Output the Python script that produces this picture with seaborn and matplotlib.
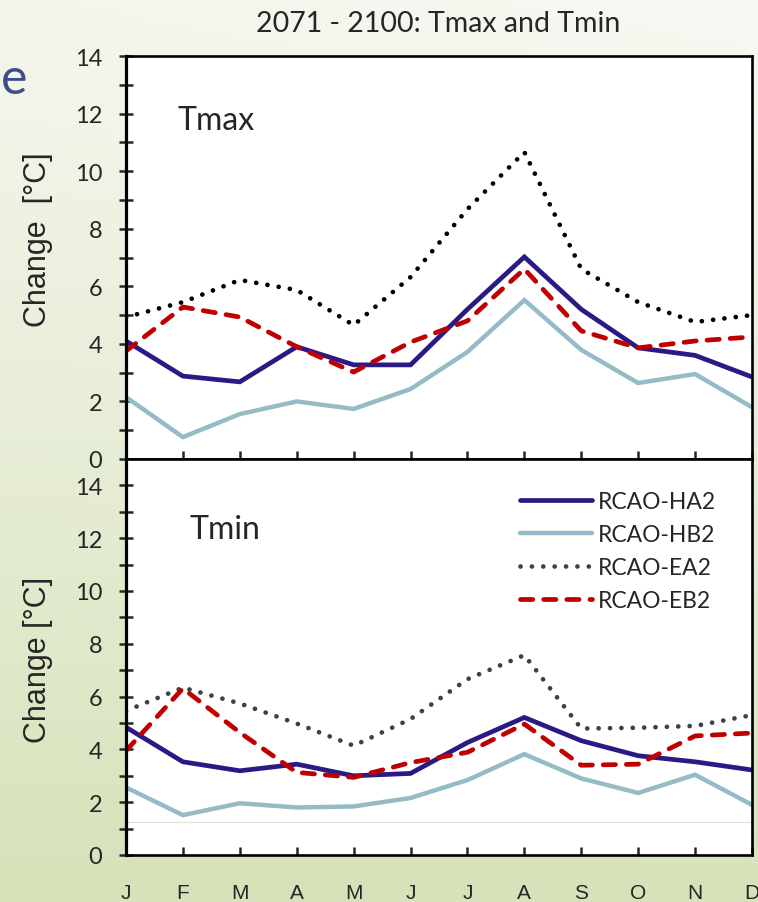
import numpy as np
import pandas as pd
import seaborn as sns
import matplotlib.pyplot as plt
from matplotlib.lines import Line2D

months = ['J', 'F', 'M', 'A', 'M', 'J', 'J', 'A', 'S', 'O', 'N', 'D']
series = ['RCAO-HA2', 'RCAO-HB2', 'RCAO-EA2', 'RCAO-EB2']

# Tmax change per month
tmax_ha2 = [4.1, 2.88, 2.68, 3.9, 3.27, 3.27, 5.2, 7.02, 5.2, 3.86, 3.6, 2.85]
tmax_hb2 = [2.15, 0.76, 1.56, 2.0, 1.74, 2.43, 3.72, 5.52, 3.79, 2.64, 2.95, 1.8]
tmax_ea2 = [4.93, 5.45, 6.22, 5.87, 4.65, 6.32, 8.68, 10.66, 6.6, 5.45, 4.76, 5.0]
tmax_eb2 = [3.75, 5.28, 4.93, 3.9, 3.02, 4.06, 4.8, 6.6, 4.45, 3.86, 4.1, 4.24]

# Tmin change per month
tmin_ha2 = [4.84, 3.53, 3.19, 3.44, 3.0, 3.09, 4.26, 5.21, 4.33, 3.76, 3.53, 3.22]
tmin_hb2 = [2.56, 1.51, 1.96, 1.8, 1.84, 2.16, 2.84, 3.82, 2.9, 2.35, 3.04, 1.9]
tmin_ea2 = [5.46, 6.34, 5.74, 4.98, 4.14, 5.15, 6.66, 7.57, 4.79, 4.82, 4.89, 5.3]
tmin_eb2 = [3.95, 6.31, 4.64, 3.13, 2.94, 3.5, 3.89, 4.96, 3.4, 3.44, 4.51, 4.62]

ref_line = 1.25  # faint horizontal line in the Tmin panel

# styling per series: color, linewidth, dash pattern (None = solid)
styles = {
    'RCAO-HA2': dict(color='#2b1a86', lw=3.4, dash=None),
    'RCAO-HB2': dict(color='#95bcc6', lw=3.2, dash=None),
    'RCAO-EA2': dict(color='black', lw=3.4, dash=(0.01, 2.4)),
    'RCAO-EB2': dict(color='#c00000', lw=3.4, dash=(2.6, 2.3)),
}


def long_df(vals):
    rows = []
    for name, v in zip(series, vals):
        for i, y in enumerate(v):
            rows.append({'month': i, 'series': name, 'change': y})
    return pd.DataFrame(rows)


df_max = long_df([tmax_ha2, tmax_hb2, tmax_ea2, tmax_eb2])
df_min = long_df([tmin_ha2, tmin_hb2, tmin_ea2, tmin_eb2])

sns.set_style('white')
plt.rcParams['font.family'] = ['Lato', 'DejaVu Sans']

fig = plt.figure(figsize=(7.58, 9.03), dpi=100)

# slide background gradient
bg = fig.add_axes([0, 0, 1, 1], zorder=-10)
yy, xx = np.mgrid[0:1:200j, 0:1:200j]
t = np.clip(yy ** 1.15 + 0.1 * (1 - xx) * (1 - yy), 0, 1)[..., None]
top_c = np.array([247, 248, 242]) / 255
bot_c = np.array([214, 226, 185]) / 255
bg.imshow(top_c * (1 - t) + bot_c * t, aspect='auto', extent=[0, 1, 1, 0])
bg.axis('off')

W, H = 758, 903
left, right = 126 / W, 752 / W
ax1 = fig.add_axes([left, (H - 460) / H, right - left, 403 / H])
ax2 = fig.add_axes([left, (H - 856) / H, right - left, 396 / H])


def draw(ax, df, gray_dots=False):
    for name in series:
        st = styles[name]
        col = st['color']
        if name == 'RCAO-EA2' and gray_dots:
            col = '#404040'
        sns.lineplot(data=df[df.series == name], x='month', y='change', ax=ax,
                     color=col, linewidth=st['lw'], legend=False)
        ln = ax.lines[-1]
        if st['dash'] is not None:
            ln.set_linestyle((0, st['dash']))
            ln.set_dash_capstyle('round')
        ln.set_solid_capstyle('butt')
        ln.set_solid_joinstyle('miter')
    ax.set_xlim(0, 11)
    ax.set_xlabel('')
    ax.set_ylabel('')
    ax.set_facecolor('white')
    for sp in ax.spines.values():
        sp.set_visible(True)
        sp.set_color('black')
        sp.set_linewidth(1.9)
    ax.spines['left'].set_linewidth(2.3)
    ax.set_xticks(range(12))
    ax.tick_params(axis='x', direction='in', length=6, width=1.8, bottom=True, top=False)
    ax.tick_params(axis='y', which='both', direction='inout', length=10.5, width=1.8,
                   left=True, right=False, pad=12, labelsize=17)


draw(ax1, df_max)
ax1.set_ylim(0, 14)
ax1.set_yticks(range(0, 15, 2))
ax1.set_yticks(range(1, 14, 2), minor=True)
ax1.set_xticklabels([])

draw(ax2, df_min, gray_dots=True)
ax2.set_ylim(0, 15)
ax2.set_yticks(range(0, 15, 2))
ax2.set_yticks(range(1, 15, 2), minor=True)
ax2.axhline(ref_line, color='#dfe3d0', lw=0.8, zorder=0)
ax2.set_xticklabels(months, fontfamily='Liberation Sans', fontsize=15)
ax2.tick_params(axis='x', pad=20)

ax1.text(0.083, 0.82, 'Tmax', transform=ax1.transAxes, fontsize=23)
ax2.text(0.102, 0.80, 'Tmin', transform=ax2.transAxes, fontsize=23)

fig.text(38 / W, 1 - 240 / H, 'Change  [°C]', rotation=90, ha='center', va='center',
         fontfamily='Liberation Sans', fontsize=22)
fig.text(38 / W, 1 - 660 / H, 'Change [°C]', rotation=90, ha='center', va='center',
         fontfamily='Liberation Sans', fontsize=22)
fig.text(438 / W, 1 - 24 / H, '2071 - 2100: Tmax and Tmin', ha='center', va='center',
         fontsize=20.5)
fig.text(0.5 / W, 1 - 80 / H, 'e', ha='left', va='center', fontsize=36, color='#3e4c8c')

handles = []
for name in series:
    st = styles[name]
    col = '#404040' if name == 'RCAO-EA2' else st['color']
    h = Line2D([], [], color=col, lw=st['lw'])
    if st['dash'] is not None:
        h.set_linestyle((0, st['dash']))
        h.set_dash_capstyle('round')
    h.set_solid_capstyle('round')
    handles.append(h)
ax2.legend(handles, series, loc='upper left', bbox_to_anchor=(0.629, 0.918),
           frameon=False, fontsize=16.5, handlelength=3.15, handletextpad=0.26,
           labelspacing=0.51, borderpad=0, borderaxespad=0)

fig.savefig('out.png', dpi=100)
